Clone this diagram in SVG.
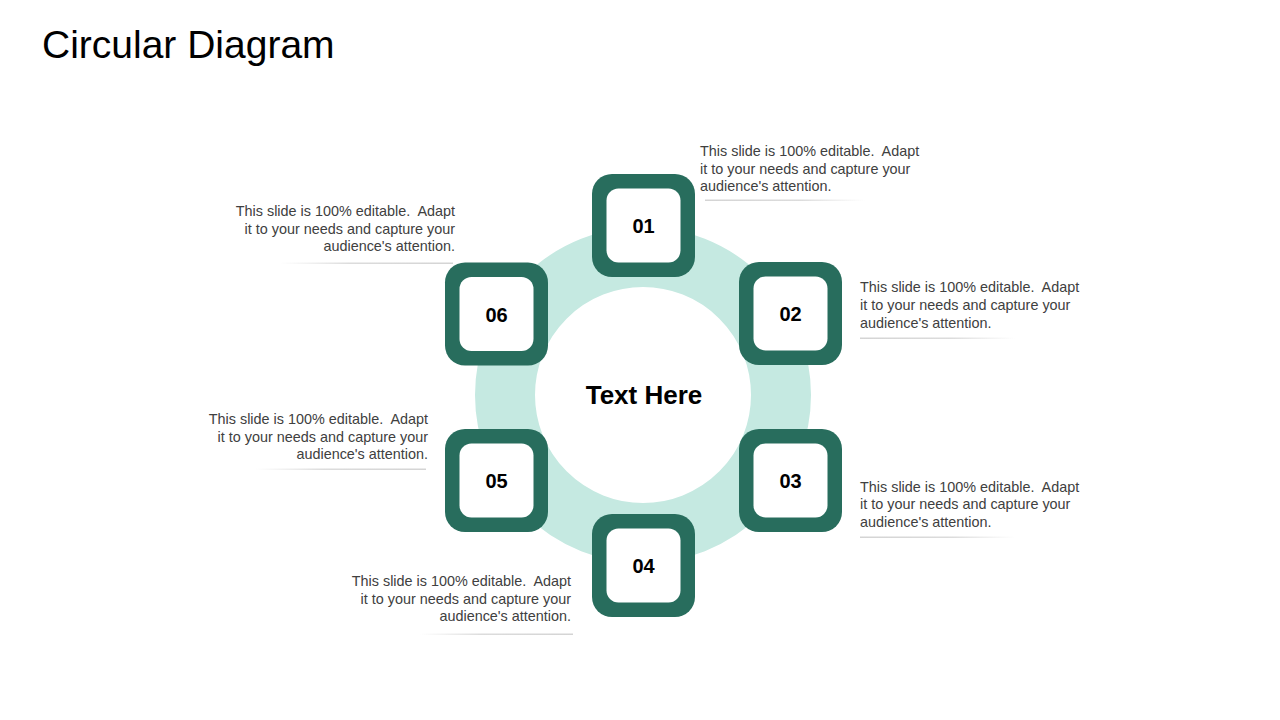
<svg xmlns="http://www.w3.org/2000/svg" width="1280" height="720" viewBox="0 0 1280 720">
<style>
.title{font-family:"Liberation Sans",Arial,sans-serif;font-size:39px;fill:#000}
.center{font-family:"Liberation Sans",Arial,sans-serif;font-size:26px;font-weight:bold;fill:#000}
.num{font-family:"Liberation Sans",Arial,sans-serif;font-size:20px;font-weight:bold;fill:#000}
.desc{font-family:"Liberation Sans",Arial,sans-serif;font-size:14.4px;fill:#404040;white-space:pre}
.outer{fill:#286d5d}
.inner{fill:#ffffff}
.sepR{fill:url(#fadeR)}
.sepL{fill:url(#fadeL)}
</style>
<defs>
<linearGradient id="fadeR" x1="0" y1="0" x2="1" y2="0">
<stop offset="0" stop-color="#d4d4d4"/>
<stop offset="0.6" stop-color="#dcdcdc"/>
<stop offset="1" stop-color="#e0e0e0" stop-opacity="0"/>
</linearGradient>
<linearGradient id="fadeL" x1="0" y1="0" x2="1" y2="0">
<stop offset="0" stop-color="#e0e0e0" stop-opacity="0"/>
<stop offset="0.4" stop-color="#dcdcdc"/>
<stop offset="1" stop-color="#d4d4d4"/>
</linearGradient>
<g id="box">
<rect x="-51.5" y="-51.5" width="103" height="103" rx="20" class="outer"/>
<rect x="-37" y="-37" width="74" height="74" rx="12" class="inner"/>
</g>
</defs>
<rect width="1280" height="720" fill="#fff"/>
<text class="title" x="42" y="58">Circular Diagram</text>

<g id="ring">
<circle cx="643" cy="395" r="138" fill="none" stroke="#c5e9e1" stroke-width="60"/>
<text class="center" x="644" y="404" text-anchor="middle">Text Here</text>
</g>

<g id="connectors">
<rect class="sepR" x="705" y="199.5" width="160" height="1.5"/>
<rect class="sepR" x="860" y="337.5" width="155" height="1.5"/>
<rect class="sepR" x="860" y="536.5" width="155" height="1.5"/>
<rect class="sepL" x="280" y="262.5" width="173" height="1.5"/>
<rect class="sepL" x="255" y="468.5" width="171" height="1.5"/>
<rect class="sepL" x="420" y="633.5" width="153" height="1.5"/>
</g>

<g id="node01">
<use href="#box" x="643.5" y="225.5"/>
<text class="num" x="643.5" y="233" text-anchor="middle">01</text>
<text class="desc" x="700" y="156">This slide is 100% editable.  Adapt</text>
<text class="desc" x="700" y="173.5">it to your needs and capture your</text>
<text class="desc" x="700" y="191">audience's attention.</text>
</g>
<g id="node02">
<use href="#box" x="790.5" y="313.5"/>
<text class="num" x="790.5" y="321" text-anchor="middle">02</text>
<text class="desc" x="860" y="292">This slide is 100% editable.  Adapt</text>
<text class="desc" x="860" y="310">it to your needs and capture your</text>
<text class="desc" x="860" y="327.5">audience's attention.</text>
</g>
<g id="node03">
<use href="#box" x="790.5" y="480.5"/>
<text class="num" x="790.5" y="488" text-anchor="middle">03</text>
<text class="desc" x="860" y="491.5">This slide is 100% editable.  Adapt</text>
<text class="desc" x="860" y="509">it to your needs and capture your</text>
<text class="desc" x="860" y="526.5">audience's attention.</text>
</g>
<g id="node04">
<use href="#box" x="643.5" y="565.5"/>
<text class="num" x="643.5" y="573" text-anchor="middle">04</text>
<text class="desc" x="571" y="586" text-anchor="end">This slide is 100% editable.  Adapt</text>
<text class="desc" x="571" y="603.5" text-anchor="end">it to your needs and capture your</text>
<text class="desc" x="571" y="621" text-anchor="end">audience's attention.</text>
</g>
<g id="node05">
<use href="#box" x="496.5" y="480.5"/>
<text class="num" x="496.5" y="488" text-anchor="middle">05</text>
<text class="desc" x="428" y="424" text-anchor="end">This slide is 100% editable.  Adapt</text>
<text class="desc" x="428" y="441.5" text-anchor="end">it to your needs and capture your</text>
<text class="desc" x="428" y="459" text-anchor="end">audience's attention.</text>
</g>
<g id="node06">
<use href="#box" x="496.5" y="314"/>
<text class="num" x="496.5" y="321.5" text-anchor="middle">06</text>
<text class="desc" x="455" y="216" text-anchor="end">This slide is 100% editable.  Adapt</text>
<text class="desc" x="455" y="233.5" text-anchor="end">it to your needs and capture your</text>
<text class="desc" x="455" y="251" text-anchor="end">audience's attention.</text>
</g>
</svg>
